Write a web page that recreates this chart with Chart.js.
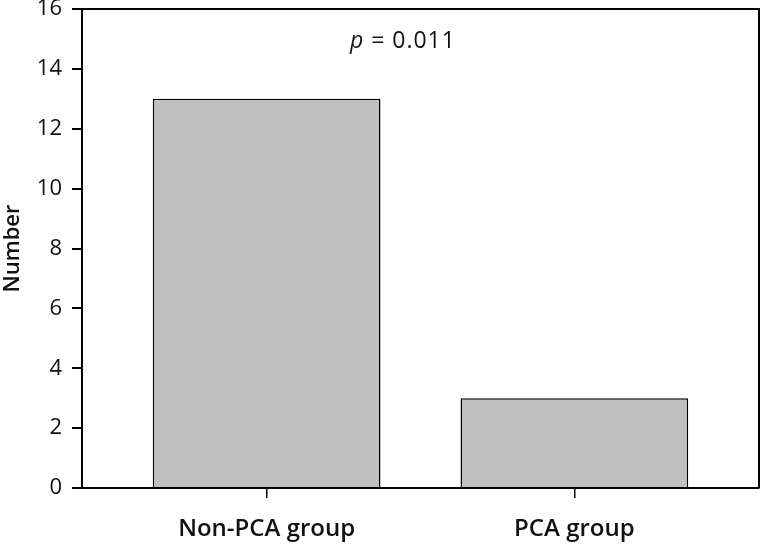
<!DOCTYPE html>
<html>
<head>
<meta charset="utf-8">
<script src="https://cdn.jsdelivr.net/npm/chart.js@4/dist/chart.umd.min.js"></script>
<style>
  html, body { margin: 0; padding: 0; background: #fff; }
  #wrap { width: 761px; height: 545px; }
</style>
</head>
<body>
<div id="wrap"><canvas id="dvCanvas" width="761" height="545"></canvas></div>
<script>
  'use strict';

  var categories = ['Non-PCA group', 'PCA group'];
  var counts = [13, 3];
  var yTicks = [0, 2, 4, 6, 8, 10, 12, 14, 16];
  var pLabel = '0.011';

  var FONT = "'Open Sans', 'DejaVu Sans', sans-serif";

  // draws the top and right sides of the frame, plus the p value
  var frame = {
    id: 'frame',
    afterDraw: function(chart) {
      var a = chart.chartArea;
      var ctx = chart.ctx;
      ctx.save();
      ctx.strokeStyle = '#000';
      ctx.lineWidth = 2;
      ctx.beginPath();
      ctx.moveTo(a.left, a.top);
      ctx.lineTo(a.right, a.top);
      ctx.lineTo(a.right, a.bottom);
      ctx.stroke();

      var x = a.left + (a.right - a.left) * 0.474;
      var y = a.top + 39;
      ctx.fillStyle = '#111';
      ctx.textBaseline = 'alphabetic';
      ctx.letterSpacing = '1px';
      ctx.font = 'italic 23px ' + FONT;
      var pw = ctx.measureText('p ').width;
      ctx.font = '23px ' + FONT;
      var rest = '= ' + pLabel;
      var rw = ctx.measureText(rest).width;
      var start = x - (pw + rw) / 2;
      ctx.font = 'italic 23px ' + FONT;
      ctx.fillText('p ', start, y);
      ctx.font = '23px ' + FONT;
      ctx.fillText(rest, start + pw, y);
      ctx.restore();
    }
  };

  var ctx = document.getElementById('dvCanvas').getContext('2d');
  var myChart = new Chart(ctx, {
    type: 'bar',
    data: {
      datasets: [{
        data: categories.map(function(c, i) { return { x: i, y: counts[i] }; }),
        backgroundColor: '#c0c0c0',
        borderColor: '#000',
        borderWidth: 1.5,
        barPercentage: 0.74,
        categoryPercentage: 1
      }]
    },
    plugins: [frame],
    options: {
      responsive: false,
      animation: false,
      layout: { padding: { top: 0, right: 2, left: 0, bottom: 0 } },
      plugins: { legend: { display: false }, tooltip: { enabled: false } },
      scales: {
        x: {
          type: 'linear',
          offset: false,
          min: -0.6,
          max: 1.6,
          afterBuildTicks: function(scale) {
            scale.ticks = categories.map(function(c, i) { return { value: i }; });
          },
          afterFit: function(scale) { scale.height = 57; },
          grid: { offset: false, drawOnChartArea: false, drawTicks: true, tickLength: 10, color: '#000', lineWidth: 1.5 },
          border: { display: true, color: '#000', width: 2 },
          ticks: {
            autoSkip: false,
            maxRotation: 0,
            padding: 17,
            color: '#111',
            font: { family: FONT, size: 24, weight: '600' },
            callback: function(v) { return categories[v]; }
          }
        },
        y: {
          min: 0,
          max: 16,
          afterBuildTicks: function(scale) {
            scale.ticks = yTicks.map(function(v) { return { value: v }; });
          },
          afterFit: function(scale) {
            scale.width = 82;
            scale.paddingTop = 9;
            scale.paddingBottom = 9;
          },
          grid: { drawOnChartArea: false, drawTicks: true, tickLength: 10, color: '#000', lineWidth: 2 },
          border: { display: true, color: '#000', width: 2 },
          title: {
            display: true,
            text: 'Number',
            color: '#111',
            padding: 0,
            font: { family: FONT, size: 22, weight: '600' }
          },
          ticks: {
            padding: 10,
            color: '#111',
            font: { family: FONT, size: 22 }
          }
        }
      }
    }
  });
</script>
</body>
</html>
